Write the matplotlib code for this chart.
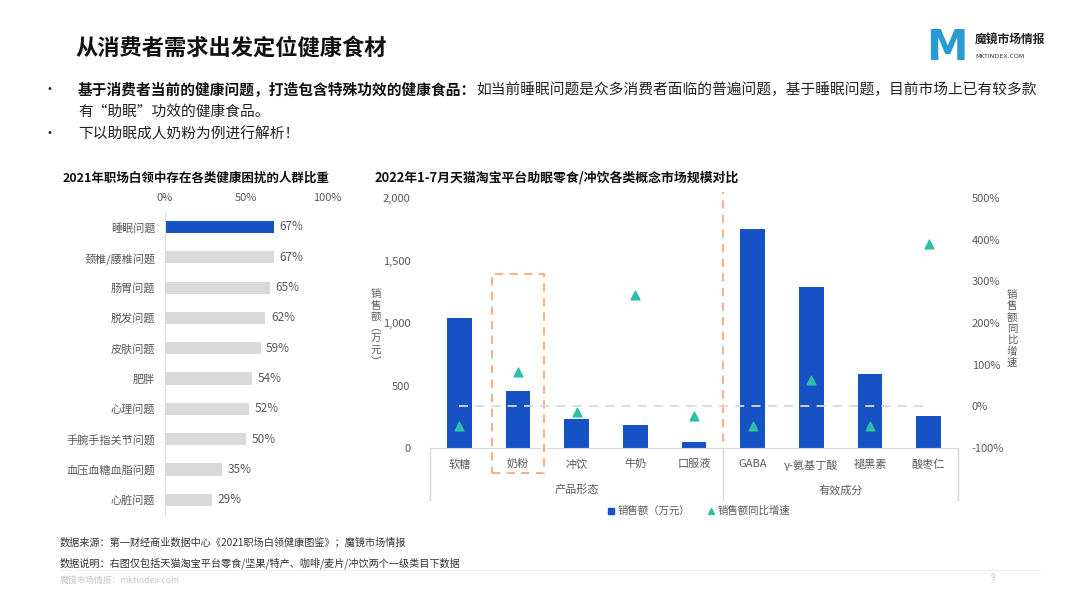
import numpy as np
import matplotlib
matplotlib.use("Agg")
import matplotlib.pyplot as plt
import matplotlib.transforms as mtransforms
from matplotlib.patches import Rectangle
from matplotlib.lines import Line2D
from matplotlib.text import Annotation

plt.rcParams['font.family'] = ['Noto Sans CJK SC', 'DejaVu Sans']

# left chart: share of white-collar workers with each health issue (%)
issue_names = ['睡眠问题', '颈椎/腰椎问题', '肠胃问题', '脱发问题', '皮肤问题',
               '肥胖', '心理问题', '手腕手指关节问题', '血压血糖血脂问题', '心脏问题']
issue_pct = [67, 67, 65, 62, 59, 54, 52, 50, 35, 29]

# right chart: sales (10k yuan) and YoY growth (%)
concepts = ['软糖', '奶粉', '冲饮', '牛奶', '口服液', 'GABA', 'γ-氨基丁酸', '褪黑素', '酸枣仁']
sales = [1040, 460, 233, 185, 47, 1755, 1290, 594, 260]
growth = [-46, 83, -13, 267, -22, -46, 64, -46, 390]
groups = ['产品形态', '有效成分']
group_sizes = [5, 4]

BLUE = '#1652C4'
GRAY_BAR = '#D9D9D9'
TEAL = '#2DBFA9'
ORANGE = '#F2B48C'
TXT = '#595959'

fig = plt.figure(figsize=(10.8, 6.07), dpi=100)

# ---- header ----
fig.text(75 / 1080, 1 - 48 / 607, '从消费者需求出发定位健康食材', fontsize=16, fontweight='bold',
         color='#111111', va='center', ha='left')
fig.text(947 / 1080, 1 - 48 / 607, 'M', fontsize=30, fontweight='bold', color='#2A9BD2',
         va='center', ha='center', family='DejaVu Sans')
fig.text(975 / 1080, 1 - 40 / 607, '魔镜市场情报', fontsize=8.5, fontweight='bold', color='#222222',
         va='center', ha='left')
fig.text(975 / 1080, 1 - 56 / 607, 'MKTINDEX.COM', fontsize=4.5, color='#333333',
         va='center', ha='left', family='DejaVu Sans')

for yy in [90, 134]:
    fig.text(42 / 1080, 1 - yy / 607, '•', fontsize=10, color='#222222', va='center', ha='left')

FS = 10.6
t1 = fig.text(78 / 1080, 1 - 90 / 607, '基于消费者当前的健康问题，打造包含特殊功效的健康食品：',
              fontsize=FS, fontweight='bold', color='#111111', va='center', ha='left')
fig.add_artist(Annotation('如当前睡眠问题是众多消费者面临的普遍问题，基于睡眠问题，目前市场上已有较多款',
                          xy=(1, 0.5), xycoords=t1, va='center', ha='left',
                          fontsize=FS, color='#222222'))
fig.text(78 / 1080, 1 - 112 / 607, '有“助眠”功效的健康食品。', fontsize=FS, color='#222222',
         va='center', ha='left')
fig.text(78 / 1080, 1 - 134 / 607, '下以助眠成人奶粉为例进行解析！', fontsize=FS, color='#222222',
         va='center', ha='left')

# ---- left chart ----
fig.text(63 / 1080, 1 - 178 / 607, '2021年职场白领中存在各类健康困扰的人群比重', fontsize=9,
         fontweight='bold', color='#111111', va='center', ha='left')
ax1 = fig.add_axes([165 / 1080, 1 - 515 / 607, 162 / 1080, 302 / 607])
ypos = np.arange(len(issue_names))
colors = [BLUE] + [GRAY_BAR] * (len(issue_names) - 1)
bars = ax1.barh(ypos, issue_pct, height=0.4, color=colors)
ax1.bar_label(bars, labels=[f'{v}%' for v in issue_pct], padding=4, fontsize=8.5, color=TXT)
ax1.set_xlim(0, 100)
ax1.set_ylim(9.5, -0.46)
ax1.set_yticks(ypos)
ax1.set_yticklabels(issue_names, fontsize=8, color=TXT)
ax1.xaxis.tick_top()
ax1.set_xticks([0, 50, 100])
ax1.set_xticklabels(['0%', '50%', '100%'], fontsize=8, color=TXT)
ax1.tick_params(axis='both', length=0)
ax1.tick_params(axis='y', pad=7)
ax1.tick_params(axis='x', pad=7)
for s in ['top', 'right', 'bottom']:
    ax1.spines[s].set_visible(False)
ax1.spines['left'].set_color('#D6DCE5')
ax1.patch.set_alpha(0)

# ---- right chart ----
fig.text(375 / 1080, 1 - 178 / 607, '2022年1-7月天猫淘宝平台助眠零食/冲饮各类概念市场规模对比',
         fontsize=9.3, fontweight='bold', color='#111111', va='center', ha='left')
ax2 = fig.add_axes([430 / 1080, 1 - 448 / 607, 528 / 1080, 250 / 607])
xpos = np.arange(len(concepts))
ax2.bar(xpos, sales, width=0.42, color=BLUE, zorder=2)
ax2.set_xlim(-0.5, len(concepts) - 0.5)
ax2.set_ylim(0, 2000)
ax2.set_yticks([0, 500, 1000, 1500, 2000])
ax2.set_yticklabels(['0', '500', '1,000', '1,500', '2,000'], fontsize=8, color=TXT)
ax2.set_xticks(xpos)
ax2.set_xticklabels(concepts, fontsize=8, color=TXT)
ax2.tick_params(axis='y', length=0, pad=14)
ax2.tick_params(axis='x', length=0, pad=8)
for s in ['top', 'right', 'left']:
    ax2.spines[s].set_visible(False)
ax2.spines['bottom'].set_color('#D9D9D9')

ax3 = ax2.twinx()
ax3.plot([xpos[0], xpos[-1]], [0, 0], color='#D9D9D9', lw=1.3, ls=(0, (5, 4)), zorder=1)
ax3.scatter(xpos, growth, marker='^', s=40, color=TEAL, zorder=3)
ax3.set_ylim(-100, 500)
ax3.set_yticks([-100, 0, 100, 200, 300, 400, 500])
ax3.set_yticklabels([f'{v}%' for v in [-100, 0, 100, 200, 300, 400, 500]], fontsize=8, color=TXT)
ax3.tick_params(axis='y', length=0, pad=10)
for s in ax3.spines.values():
    s.set_visible(False)

# multi-level category axis
trans = mtransforms.blended_transform_factory(ax2.transData, ax2.transAxes)
edges = np.concatenate([[0], np.cumsum(group_sizes)]) - 0.5
for e in edges:
    ax2.plot([e, e], [0, -0.208], transform=trans, color='#D9D9D9', lw=1, clip_on=False)
for i, g in enumerate(groups):
    ax2.text((edges[i] + edges[i + 1]) / 2, -0.168, g, transform=trans, fontsize=8, color=TXT,
             ha='center', va='center')

# highlight box and divider
ax2.add_patch(Rectangle((1 - 0.443, -0.1), 0.886, 0.796, transform=trans, fill=False,
                        edgecolor=ORANGE, lw=1.5, ls=(0, (4, 3)), clip_on=False, zorder=4))
ax2.plot([edges[1], edges[1]], [0.024, 1.024], transform=trans, color=ORANGE, lw=1.5,
         ls=(0, (4, 3)), clip_on=False, zorder=4)

# stacked (vertical) axis titles
fig.text(376 / 1080, 1 - 328 / 607, '\n'.join('销售额︵万元︶'), fontsize=7.5, color=TXT,
         ha='center', va='center', linespacing=1.15)
fig.text(1012 / 1080, 1 - 329 / 607, '\n'.join('销售额同比增速'), fontsize=7.5, color=TXT,
         ha='center', va='center', linespacing=1.15)

handles = [Line2D([], [], marker='s', ls='', color=BLUE, markersize=5),
           Line2D([], [], marker='^', ls='', color=TEAL, markersize=4)]
fig.legend(handles, ['销售额（万元）', '销售额同比增速'], loc='center',
           bbox_to_anchor=(698 / 1080, 1 - 511 / 607), ncol=2, frameon=False, fontsize=7.5,
           handletextpad=0.1, columnspacing=1.5, handlelength=1.0, labelcolor=TXT)

# ---- footer ----
fig.text(60 / 1080, 1 - 542 / 607, '数据来源：第一财经商业数据中心《2021职场白领健康图鉴》；魔镜市场情报',
         fontsize=7.3, color='#333333', va='center', ha='left')
fig.text(60 / 1080, 1 - 563 / 607, '数据说明：右图仅包括天猫淘宝平台零食/坚果/特产、咖啡/麦片/冲饮两个一级类目下数据',
         fontsize=7.3, color='#333333', va='center', ha='left')
fig.add_artist(Line2D([60 / 1080, 1040 / 1080], [1 - 570 / 607, 1 - 570 / 607],
                      color='#EEEEEE', lw=0.8))
fig.text(60 / 1080, 1 - 581 / 607, '魔镜市场情报：mktindex.com', fontsize=6.3, color='#C8C8C8',
         va='center', ha='left')
fig.text(993 / 1080, 1 - 578 / 607, '9', fontsize=6.3, color='#C8C8C8', va='center', ha='center')

fig.savefig('out.png', dpi=100)
